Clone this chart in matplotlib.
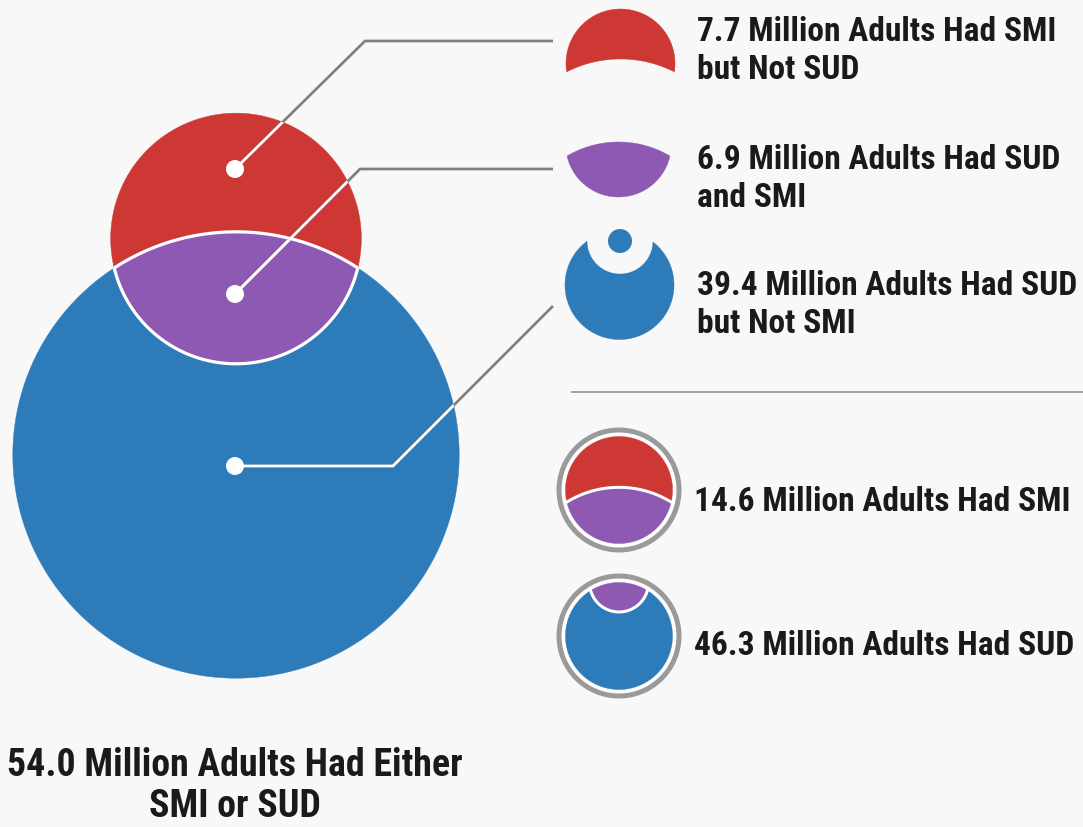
import numpy as np
import matplotlib
matplotlib.use("Agg")
import matplotlib.pyplot as plt
from matplotlib.patches import Circle, Polygon
from matplotlib import font_manager as fm

# ---------------- data ----------------
segment_labels = ["7.7 Million Adults Had SMI\nbut Not SUD",
                  "6.9 Million Adults Had SUD\nand SMI",
                  "39.4 Million Adults Had SUD\nbut Not SMI"]
segment_values = [7.7, 6.9, 39.4]          # SMI only, both, SUD only
total_labels = ["14.6 Million Adults Had SMI", "46.3 Million Adults Had SUD"]
total_values = [14.6, 46.3]                # SMI, SUD
union_label = "54.0 Million Adults Had Either\nSMI or SUD"
union_value = 54.0

# ---------------- style ----------------
RED = "#CD3834"
PURPLE = "#8E59B3"
BLUE = "#2E7BB9"
BG = "#F8F8F8"
LEADER = "#7F7F7F"
RING = "#9A9A9A"
TXT = "#1A1A1A"
PX = 72 / 100.0  # points per pixel


def pick_font(cands):
    for c in cands:
        try:
            fm.findfont(fm.FontProperties(family=c, weight="bold"),
                        fallback_to_default=False)
            return c
        except Exception:
            pass
    return "DejaVu Sans"


FONT = pick_font(["Liberation Sans Narrow", "Roboto Condensed",
                  "DejaVu Sans Condensed", "Liberation Sans", "Roboto"])

fig = plt.figure(figsize=(10.83, 8.28), dpi=100, facecolor=BG)
ax = fig.add_axes([0, 0, 1, 1])
ax.set_xlim(0, 1083)
ax.set_ylim(828, 0)
ax.set_aspect("equal")
ax.axis("off")
ax.set_facecolor(BG)


# ---------------- geometry helpers ----------------
def ring_pts(c, r, start, n=2400):
    t = start + np.linspace(0, 2 * np.pi, n, endpoint=False)
    return np.c_[c[0] + r * np.cos(t), c[1] + r * np.sin(t)]


def inside(p, c, r):
    return np.hypot(p[:, 0] - c[0], p[:, 1] - c[1]) < r


def region(A, B, mode):
    """Polygon vertices of A minus B ('diff') or A and B ('inter');
    also returns the arc of B lying inside A."""
    (ca, ra), (cb, rb) = A, B
    ang = np.arctan2(cb[1] - ca[1], cb[0] - ca[0])
    if mode == "diff":
        pa = ring_pts(ca, ra, ang)
        pa = pa[~inside(pa, cb, rb)]
    else:
        pa = ring_pts(ca, ra, ang + np.pi)
        pa = pa[inside(pa, cb, rb)]
    pb = ring_pts(cb, rb, ang)
    pb = pb[inside(pb, ca, ra)]
    if np.hypot(*(pa[-1] - pb[0])) > np.hypot(*(pa[-1] - pb[-1])):
        pb = pb[::-1]
    return np.vstack([pa, pb]), pb


def add_poly(verts, color, z):
    p = Polygon(verts, closed=True, facecolor=color, edgecolor=color,
                lw=0.3, zorder=z)
    ax.add_patch(p)
    return p


# ---------------- area-proportional Venn ----------------
k = 32.8  # px per sqrt(million)
r_smi = k * np.sqrt(total_values[0])
r_sud = k * np.sqrt(total_values[1])


def lens_area(d, r1, r2):
    a1 = np.arccos(np.clip((d * d + r1 * r1 - r2 * r2) / (2 * d * r1), -1, 1))
    a2 = np.arccos(np.clip((d * d + r2 * r2 - r1 * r1) / (2 * d * r2), -1, 1))
    s = (-d + r1 + r2) * (d + r1 - r2) * (d - r1 + r2) * (d + r1 + r2)
    return r1 * r1 * a1 + r2 * r2 * a2 - 0.5 * np.sqrt(max(s, 0))


target = np.pi * k * k * segment_values[1]
lo, hi = r_sud - r_smi + 1e-6, r_sud + r_smi - 1e-6
for _ in range(80):
    mid = 0.5 * (lo + hi)
    if lens_area(mid, r_smi, r_sud) > target:
        lo = mid
    else:
        hi = mid
d = 0.5 * (lo + hi)

cx = 236.0
SUD = ((cx, 456.0), r_sud)
SMI = ((cx, 456.0 - d), r_smi)

red_v, _ = region(SMI, SUD, "diff")
blue_v, _ = region(SUD, SMI, "diff")
pur_v, arc_sud_in_smi = region(SMI, SUD, "inter")
_, arc_smi_in_sud = region(SUD, SMI, "inter")
add_poly(red_v, RED, 2)
add_poly(blue_v, BLUE, 2)
add_poly(pur_v, PURPLE, 3)
for arc in (arc_sud_in_smi, arc_smi_in_sud):
    ax.plot(arc[:, 0], arc[:, 1], color="white", lw=3.2 * PX, zorder=4,
            solid_capstyle="butt")

# invisible circles used to clip the white part of the leaders
smi_clip = Circle(*SMI, facecolor="none", edgecolor="none")
sud_clip = Circle(*SUD, facecolor="none", edgecolor="none")
ax.add_patch(smi_clip)
ax.add_patch(sud_clip)

# ---------------- leaders ----------------
leaders = [
    ([235, 365, 553], [170, 42, 42]),
    ([235, 360, 553], [295, 170, 170]),
    ([235, 393, 553], [467, 467, 307]),
]
for xs, ys in leaders:
    ax.plot(xs, ys, color=LEADER, lw=2.7 * PX, zorder=5, solid_capstyle="butt",
            solid_joinstyle="miter")
    for clip in (smi_clip, sud_clip):
        ln, = ax.plot(xs, ys, color="white", lw=2.7 * PX, zorder=5.5,
                      solid_capstyle="butt", solid_joinstyle="miter")
        ln.set_clip_path(clip)
    ax.add_patch(Circle((xs[0], ys[0]), 9, facecolor="white", edgecolor="none", zorder=6))

# ---------------- legend icons ----------------
# SMI only: red crescent
v, _ = region(((620.5, 64.5), 54.5), ((620.5, 179.0), 119.0), "diff")
add_poly(v, RED, 2)

# both: purple lens
v, _ = region(((618.5, 145.2), 52.8), ((618.5, 244.7), 101.7), "inter")
add_poly(v, PURPLE, 2)

# SUD only: blue disc with notch and dot
v, _ = region(((619.5, 286.0), 54.5), ((620.0, 242.0), 33.0), "diff")
add_poly(v, BLUE, 2)
ax.add_patch(Circle((620, 242), 12, facecolor=BLUE, edgecolor="none", zorder=4))

# separator
ax.plot([572, 1083], [393, 393], color="#8C8C8C", lw=1.6 * PX, zorder=1)

# total SMI ring icon
c4 = (619.0, 491.0)
ax.add_patch(Circle(c4, 60.0, facecolor="white", edgecolor=RING, lw=5 * PX, zorder=2))
v_top, _ = region((c4, 53.5), ((619.0, 588.0), 99.7), "diff")
v_bot, arc4 = region((c4, 53.5), ((619.0, 588.0), 99.7), "inter")
add_poly(v_top, RED, 3)
add_poly(v_bot, PURPLE, 3)
ax.plot(arc4[:, 0], arc4[:, 1], color="white", lw=3 * PX, zorder=4)

# total SUD ring icon
c5 = (619.0, 637.0)
ax.add_patch(Circle(c5, 60.0, facecolor="white", edgecolor=RING, lw=5 * PX, zorder=2))
v_main, _ = region((c5, 53.5), ((619.0, 583.5), 29.5), "diff")
v_cap, arc5 = region((c5, 53.5), ((619.0, 583.5), 29.5), "inter")
add_poly(v_main, BLUE, 3)
add_poly(v_cap, PURPLE, 3)
ax.plot(arc5[:, 0], arc5[:, 1], color="white", lw=3 * PX, zorder=4)

# ---------------- text ----------------
fig.canvas.draw()
rend = fig.canvas.get_renderer()


def fit_size(s, target_px, base=26.0):
    t = fig.text(0, 0, s, fontsize=base, family=FONT, weight="bold")
    w = t.get_window_extent(renderer=rend).width
    t.remove()
    return base * target_px / w


fs_lab = fit_size(segment_labels[0].split("\n")[0], 360)
fs_big = fit_size(union_label.split("\n")[0], 456)

seg_base = [(41, 79), (169, 207), (295, 333)]
for lab, (b1, b2) in zip(segment_labels, seg_base):
    l1, l2 = lab.split("\n")
    ax.text(697, b1, l1, fontsize=fs_lab, family=FONT, weight="bold",
            color=TXT, va="baseline", ha="left", zorder=7)
    ax.text(697, b2, l2, fontsize=fs_lab, family=FONT, weight="bold",
            color=TXT, va="baseline", ha="left", zorder=7)

for lab, b in zip(total_labels, [511, 655]):
    ax.text(694, b, lab, fontsize=fs_lab, family=FONT, weight="bold",
            color=TXT, va="baseline", ha="left", zorder=7)

u1, u2 = union_label.split("\n")
ax.text(235, 776, u1, fontsize=fs_big, family=FONT, weight="bold",
        color=TXT, va="baseline", ha="center", zorder=7)
ax.text(235, 817, u2, fontsize=fs_big, family=FONT, weight="bold",
        color=TXT, va="baseline", ha="center", zorder=7)

fig.savefig("out.png", dpi=100, facecolor=BG)
